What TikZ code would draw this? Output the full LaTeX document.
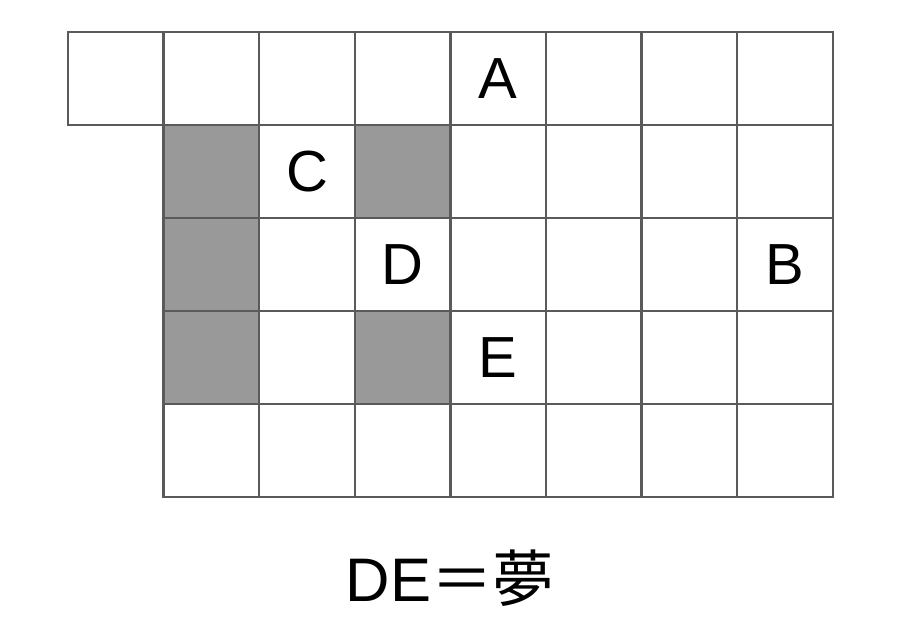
\documentclass[tikz,border=0pt]{standalone}
\usepackage{fontspec}
\setmainfont{Liberation Sans}
\newfontfamily\cjk{Noto Sans CJK JP}
\usetikzlibrary{positioning}
\definecolor{GridLine}{RGB}{90,90,90}
\definecolor{ShadeGray}{RGB}{153,153,153}
\tikzset{
  cell/.style={draw=GridLine, line width=1.4pt, fill=white, inner sep=0pt, outer sep=0pt,
    minimum width=1.912cm, minimum height=1.86cm},
  shaded/.style={cell, fill=ShadeGray},
  letter/.style={font=\fontsize{33}{33}\selectfont}
}
\begin{document}
\begin{tikzpicture}[x=0.02cm, y=-0.02cm]
  \useasboundingbox (0,0) rectangle (908,644);
  % top row
  \foreach \c in {0,...,7}
    \node[cell] (c0\c) at ({68+95.6*(\c+0.5)}, {32+93*0.5}) {};
  % lower rows
  \foreach \r in {1,...,4}
    \foreach \c in {1,...,7}
      \node[cell] (c\r\c) at ({68+95.6*(\c+0.5)}, {32+93*(\r+0.5)}) {};
  % grey cells
  \foreach \r/\c in {1/1, 1/3, 2/1, 3/1, 3/3}
    \node[shaded] at (c\r\c) {};
  % letters
  \node[letter] (lA) at (c04) {A};
  \node[letter] (lC) at (c12) {C};
  \node[letter] (lD) at (c23) {D};
  \node[letter] (lB) at (c27) {B};
  \node[letter] (lE) at (c34) {E};
  \node[font=\fontsize{35}{35}\selectfont] (caption) at (450,578) {DE{\cjk ＝夢}};
\end{tikzpicture}
\end{document}
